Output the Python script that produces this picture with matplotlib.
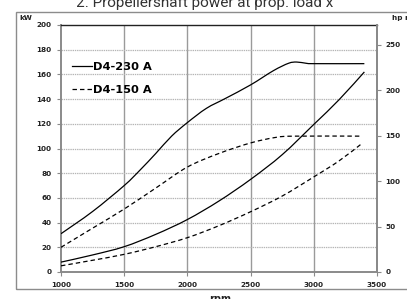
import matplotlib
matplotlib.use("Agg")
import matplotlib.pyplot as plt
from matplotlib.path import Path
from matplotlib.patches import PathPatch, Rectangle
from matplotlib.lines import Line2D
import numpy as np

# ---- data ----
rpm_230_full = [1000, 1250, 1500, 1625, 1750, 1875, 2000, 2150, 2300, 2500, 2680, 2800, 2865, 2940, 3000, 3400]
kw_230_full = [31, 49, 70, 82.5, 96, 110, 121, 132.5, 140.5, 151.5, 163, 169, 170, 169, 168.7, 168.7]

rpm_230_prop = [1000, 1250, 1500, 1750, 2000, 2250, 2500, 2750, 3000, 3200, 3400]
kw_230_prop = [8, 13.8, 20.5, 30.5, 42.5, 57.5, 75, 95, 119.5, 139.5, 162]

rpm_150_full = [1000, 1250, 1500, 1750, 2000, 2250, 2500, 2700, 2850, 3380]
kw_150_full = [20, 35.5, 51, 68, 85, 96, 104.5, 109, 110, 110]

rpm_150_prop = [1000, 1250, 1500, 1750, 2000, 2250, 2500, 2750, 3000, 3200, 3380]
kw_150_prop = [5, 9.5, 14.3, 20.5, 27.8, 37.5, 48.8, 61.5, 77, 90, 104]

series_names = ["D4-230 A", "D4-150 A"]
x_ticks = [1000, 1500, 2000, 2500, 3000, 3500]
y_ticks = [0, 20, 40, 60, 80, 100, 120, 140, 160, 180, 200]
hp_ticks = [0, 50, 100, 150, 200, 250]
KW_PER_HP = 0.7355

title = "2. Propellershaft power at prop. load x"

W, H = 407, 299
plt.rcParams['lines.scale_dashes'] = False
fig = plt.figure(figsize=(W / 100, H / 100), dpi=100)
ax = fig.add_axes([61 / W, 1 - 272 / H, (377 - 61) / W, (272 - 25) / H])


def smooth_path(xs, ys):
    # Excel-like smoothed line (Catmull-Rom as cubic Bezier) through the data points
    pts = np.column_stack([xs, ys]).astype(float)
    verts = [pts[0]]
    codes = [Path.MOVETO]
    n = len(pts)
    for i in range(n - 1):
        p0 = pts[max(i - 1, 0)]
        p1 = pts[i]
        p2 = pts[i + 1]
        p3 = pts[min(i + 2, n - 1)]
        c1 = p1 + (p2 - p0) / 6.0
        c2 = p2 - (p3 - p1) / 6.0
        verts += [c1, c2, p2]
        codes += [Path.CURVE4] * 3
    return Path(verts, codes)


dash = (3.2, 2.2)
for xs, ys, ls in [(rpm_230_full, kw_230_full, '-'), (rpm_230_prop, kw_230_prop, '-'),
                   (rpm_150_full, kw_150_full, '--'), (rpm_150_prop, kw_150_prop, '--')]:
    patch = PathPatch(smooth_path(xs, ys), facecolor='none', edgecolor='black', lw=0.9,
                      zorder=3)
    if ls == '--':
        patch.set_linestyle((0, dash))
    ax.add_patch(patch)

ax.set_xlim(1000, 3500)
ax.set_ylim(0, 200)
ax.set_xticks(x_ticks)
ax.set_yticks(y_ticks)

# grid
for xv in x_ticks[1:-1]:
    ax.axvline(xv, color='#9a9a9a', lw=1.0, zorder=1)
for yv in y_ticks[1:-1]:
    ax.axhline(yv, color='#b5b5b5', lw=0.9, ls=(0, (1, 0.6)), zorder=1)

for s in ['left', 'bottom', 'right']:
    ax.spines[s].set_color('#8a8a8a')
    ax.spines[s].set_linewidth(1.4)
ax.spines['top'].set_color('#222222')
ax.spines['top'].set_linewidth(1.0)

ax.tick_params(axis='both', direction='out', length=3, width=0.8, color='#8a8a8a')
ax.tick_params(axis='y', pad=4)
ax.tick_params(axis='x', pad=4.5)
for lab in ax.get_xticklabels() + ax.get_yticklabels():
    lab.set_fontsize(5.2)
    lab.set_fontweight('bold')
    lab.set_color('#222222')

ax2 = ax.twinx()
ax2.set_ylim(0, 200 / KW_PER_HP)
ax2.set_yticks(hp_ticks)
ax2.tick_params(axis='y', direction='out', length=3, width=0.8, color='#8a8a8a', pad=3)
for lab in ax2.get_yticklabels():
    lab.set_fontsize(5.2)
    lab.set_fontweight('bold')
    lab.set_color('#222222')
for s in ['left', 'bottom', 'top']:
    ax2.spines[s].set_visible(False)
ax2.spines['right'].set_color('#8a8a8a')
ax2.spines['right'].set_linewidth(1.4)

# legend
h1 = Line2D([], [], color='black', lw=0.9)
h2 = Line2D([], [], color='black', lw=0.9, linestyle=(0, dash))
leg = ax.legend([h1, h2], series_names, loc='upper left', bbox_to_anchor=(0.02, 0.87),
                frameon=False, handlelength=1.75, handletextpad=0.1, labelspacing=1.15,
                borderaxespad=0, prop=dict(size=8.2, weight='bold'))

# outer frame
fig.patches.append(Rectangle((15.7 / W, 1 - 289 / H), 1.0, (289 - 11.5) / H,
                             transform=fig.transFigure, fill=False, edgecolor='#8c8c8c',
                             lw=1.0))

fig.text(205 / W, 1 - 7 / H, title, ha='center', va='baseline', fontsize=11,
         family='Roboto', color='#333333')
fig.text(26 / W, 1 - 18 / H, "kW", ha='center', va='center', fontsize=5.2,
         fontweight='bold', color='#222222')
fig.text(392 / W, 1 - 18 / H, "hp metric", ha='left', va='center', fontsize=5.2,
         fontweight='bold', color='#222222')
fig.text(220 / W, 1 - 294 / H, "rpm", ha='center', va='top', fontsize=7,
         fontweight='bold', color='#222222')

fig.savefig("out.png", dpi=100)
